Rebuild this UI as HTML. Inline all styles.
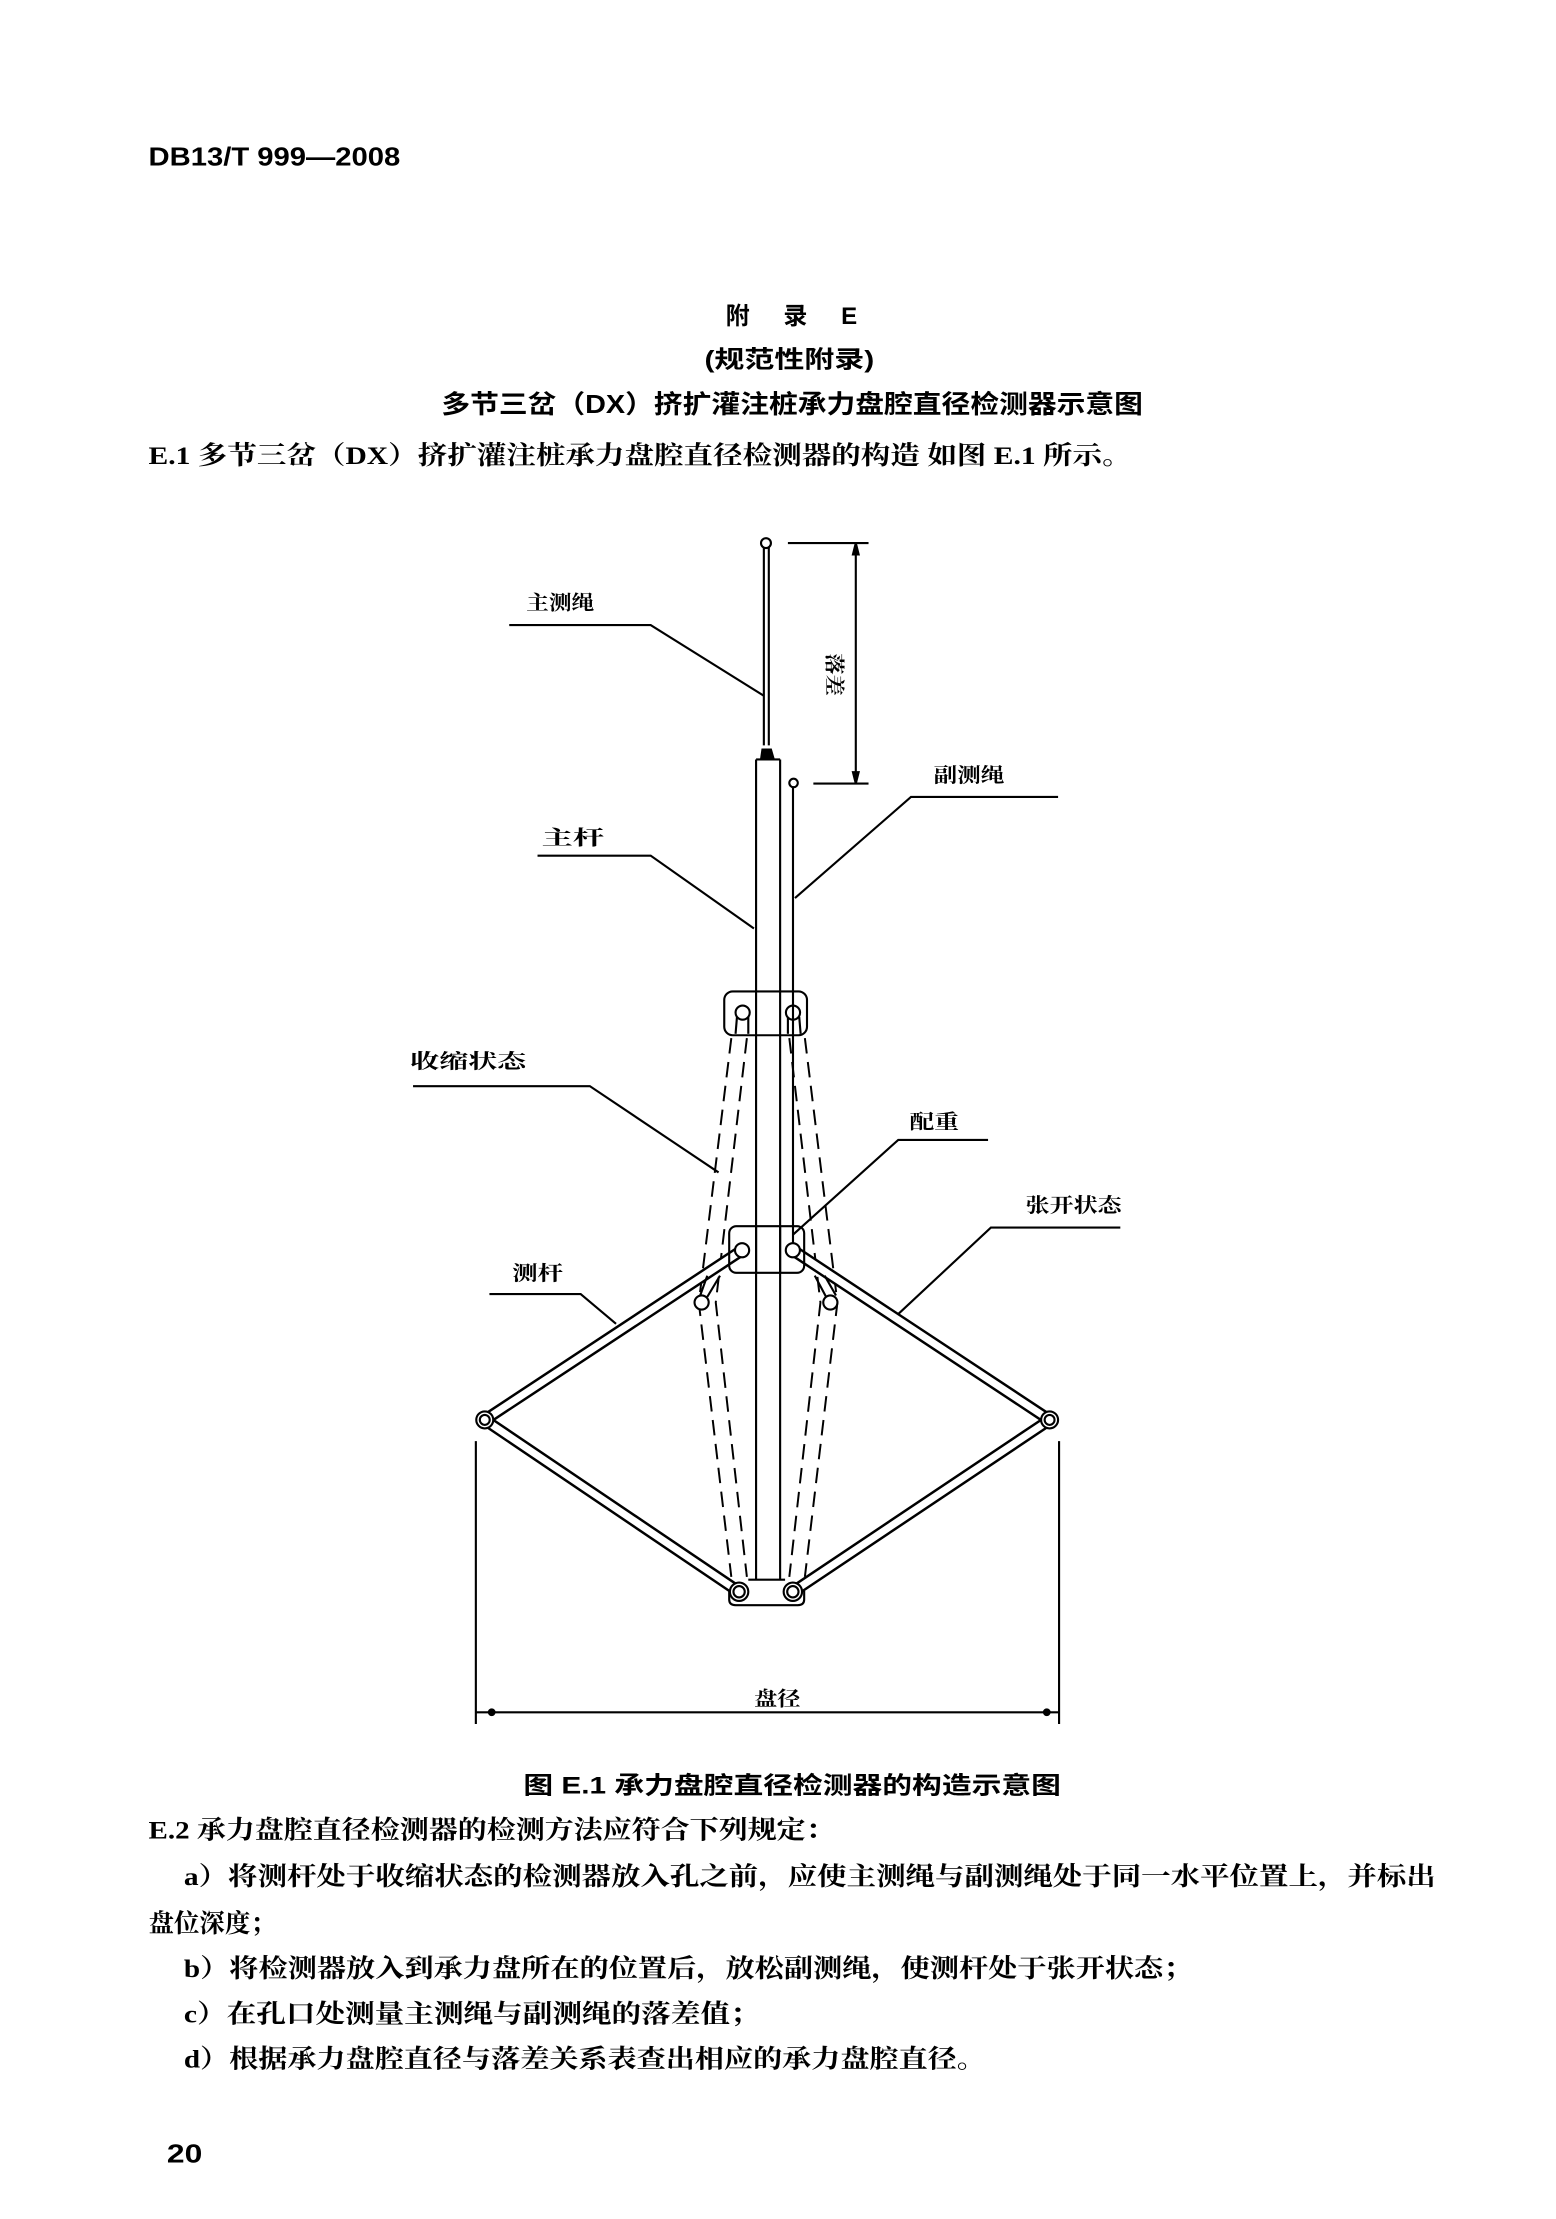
<!DOCTYPE html>
<html><head><meta charset="utf-8"><style>
html,body{margin:0;padding:0;background:#fff;}
svg{display:block;}
.h{font-family:"Liberation Sans","Noto Sans CJK SC",sans-serif;font-weight:bold;fill:#000;}
.b{font-family:"Liberation Serif","Noto Serif CJK SC",serif;font-weight:bold;fill:#000;}
.l{font-family:"Liberation Serif","Noto Serif CJK SC",serif;fill:#000;font-size:14px;font-weight:bold;}
</style></head><body>
<svg width="1556" height="2219" viewBox="0 0 1100 1569" preserveAspectRatio="none" xmlns="http://www.w3.org/2000/svg">
<rect width="1100" height="1569" fill="#fff"/>
<text class="h" x="105" y="117" font-size="18" textLength="178" lengthAdjust="spacingAndGlyphs">DB13/T 999—2008</text>
<text class="h" x="513" y="229" font-size="17" textLength="93" lengthAdjust="spacing">附 录 E</text>
<text class="h" x="498" y="260" font-size="17" textLength="120" lengthAdjust="spacingAndGlyphs">(规范性附录)</text>
<text class="h" x="312" y="292" font-size="18" textLength="496" lengthAdjust="spacingAndGlyphs">多节三岔（DX）挤扩灌注桩承力盘腔直径检测器示意图</text>
<text class="b" x="105" y="328" font-size="18" textLength="695" lengthAdjust="spacingAndGlyphs">E.1   多节三岔（DX）挤扩灌注桩承力盘腔直径检测器的构造 如图 E.1 所示。</text>

<g stroke="#000" fill="none" stroke-width="1.5">
<circle cx="541.5" cy="384" r="3.5" fill="#fff"/>
<line x1="540" y1="387" x2="540" y2="527"/><line x1="543.5" y1="387" x2="543.5" y2="527"/>
<path d="M538,537 L539,530 L545,530 L547,537" fill="#000"/>
<line x1="534.5" y1="537" x2="534.5" y2="1117"/><line x1="551.5" y1="537" x2="551.5" y2="1117"/>
<line x1="534.5" y1="537" x2="551.5" y2="537"/>
<circle cx="561" cy="553.6" r="3" fill="#fff"/>
<line x1="560.6" y1="556" x2="560.6" y2="880"/>
<line x1="557" y1="384" x2="614" y2="384"/><line x1="575" y1="554" x2="614" y2="554"/>
<line x1="605" y1="384" x2="605" y2="554"/>
<path d="M603,392 L605,384 L607,392Z M603,546 L605,554 L607,546Z" fill="#000"/>
<polyline points="360,442 460,442 540,492"/>
<polyline points="748,563.5 644,563.5 562,635"/>
<polyline points="380,605 460,605 533,656.5"/>
<polyline points="292,768 417,768 508,829"/>
<polyline points="698.5,806 635,806 560.6,873"/>
<polyline points="792,868 700.5,868 633,931"/>
<polyline points="346,915 410.5,915 435.5,936"/>
<rect x="512" y="701" width="58.5" height="31" rx="6" fill="none"/>
<circle cx="525" cy="716" r="5"/><circle cx="560.6" cy="716" r="5"/>
<line x1="521" y1="719" x2="520" y2="731"/><line x1="529" y1="719" x2="529" y2="731"/>
<line x1="557" y1="719" x2="557" y2="731"/><line x1="565" y1="719" x2="566" y2="731"/>
<g stroke-dasharray="11,6" stroke-width="1.4">
<polyline points="517,734 494,921 517,1115"/>
<polyline points="528,734 506,921 528,1115"/>
<polyline points="569,734 592,921 569,1115"/>
<polyline points="558,734 580,921 558,1115"/>
</g>
<g stroke-linecap="round">
<polyline points="524.6,884 342.7,1004 522.5,1125.5" stroke-width="8.5" stroke-linejoin="round"/>
<polyline points="524.6,884 342.7,1004 522.5,1125.5" stroke="#fff" stroke-width="5" stroke-linejoin="round"/>
<polyline points="560.5,884 742,1004 560.5,1125.5" stroke-width="8.5" stroke-linejoin="round"/>
<polyline points="560.5,884 742,1004 560.5,1125.5" stroke="#fff" stroke-width="5" stroke-linejoin="round"/>
</g>
<rect x="515.5" y="867" width="53" height="33" rx="5"/>
<line x1="534.5" y1="867" x2="534.5" y2="900"/><line x1="551.5" y1="867" x2="551.5" y2="900"/>
<circle cx="524.6" cy="884" r="5" fill="#fff"/><circle cx="560.5" cy="884" r="5" fill="#fff"/>
<circle cx="496" cy="921" r="5" fill="#fff"/><circle cx="587" cy="921" r="5" fill="#fff"/>
<line x1="500" y1="902" x2="495" y2="916"/><line x1="509" y1="902" x2="500" y2="917"/>
<line x1="583" y1="902" x2="591" y2="916"/><line x1="576" y1="902" x2="584" y2="917"/>
<circle cx="342.7" cy="1004" r="6" fill="#fff"/><circle cx="342.7" cy="1004" r="3.5"/>
<circle cx="742" cy="1004" r="6" fill="#fff"/><circle cx="742" cy="1004" r="3.5"/>
<path d="M515.5,1125 L515.5,1131 Q515.5,1135 520,1135 L564,1135 Q568.5,1135 568.5,1131 L568.5,1125"/>
<line x1="529" y1="1117" x2="555" y2="1117"/>
<circle cx="522.5" cy="1125.5" r="6.5" fill="#fff"/><circle cx="522.5" cy="1125.5" r="4"/>
<circle cx="560.5" cy="1125.5" r="6.5" fill="#fff"/><circle cx="560.5" cy="1125.5" r="4"/>
<line x1="336.4" y1="1019" x2="336.4" y2="1219"/><line x1="748.7" y1="1019" x2="748.7" y2="1219"/>
<line x1="336.4" y1="1210.7" x2="748.7" y2="1210.7"/>
<circle cx="347.6" cy="1210.7" r="2" fill="#000"/><circle cx="740" cy="1210.7" r="2" fill="#000"/>
</g>

<text class="l" x="372" y="431" textLength="48" lengthAdjust="spacingAndGlyphs">主测绳</text>
<text class="l" x="660" y="553" textLength="50" lengthAdjust="spacingAndGlyphs">副测绳</text>
<text class="l" x="383" y="597" textLength="44" lengthAdjust="spacingAndGlyphs">主杆</text>
<text class="l" x="290" y="755" textLength="82" lengthAdjust="spacingAndGlyphs">收缩状态</text>
<text class="l" x="643" y="798" textLength="35" lengthAdjust="spacingAndGlyphs">配重</text>
<text class="l" x="725" y="857" textLength="68" lengthAdjust="spacingAndGlyphs">张开状态</text>
<text class="l" x="362" y="905" textLength="36" lengthAdjust="spacingAndGlyphs">测杆</text>
<text class="l" x="533" y="1206" textLength="33" lengthAdjust="spacingAndGlyphs">盘径</text>
<text class="l" transform="translate(585,462) rotate(90)" textLength="30" lengthAdjust="spacingAndGlyphs">落差</text>

<text class="h" x="370" y="1268" font-size="17" textLength="380" lengthAdjust="spacingAndGlyphs">图 E.1    承力盘腔直径检测器的构造示意图</text>
<text class="b" x="105" y="1300" font-size="18" textLength="485" lengthAdjust="spacingAndGlyphs">E.2   承力盘腔直径检测器的检测方法应符合下列规定：</text>
<text class="b" x="130" y="1333" font-size="18" textLength="885" lengthAdjust="spacingAndGlyphs">a）将测杆处于收缩状态的检测器放入孔之前，应使主测绳与副测绳处于同一水平位置上，并标出</text>
<text class="b" x="105" y="1366" font-size="18" textLength="90" lengthAdjust="spacingAndGlyphs">盘位深度；</text>
<text class="b" x="130" y="1398" font-size="18" textLength="713" lengthAdjust="spacingAndGlyphs">b）将检测器放入到承力盘所在的位置后，放松副测绳，使测杆处于张开状态；</text>
<text class="b" x="130" y="1430" font-size="18" textLength="407" lengthAdjust="spacingAndGlyphs">c）在孔口处测量主测绳与副测绳的落差值；</text>
<text class="b" x="130" y="1462" font-size="18" textLength="567" lengthAdjust="spacingAndGlyphs">d）根据承力盘腔直径与落差关系表查出相应的承力盘腔直径。</text>
<text class="h" x="118" y="1529" font-size="18" textLength="25" lengthAdjust="spacingAndGlyphs">20</text>
</svg>
</body></html>
